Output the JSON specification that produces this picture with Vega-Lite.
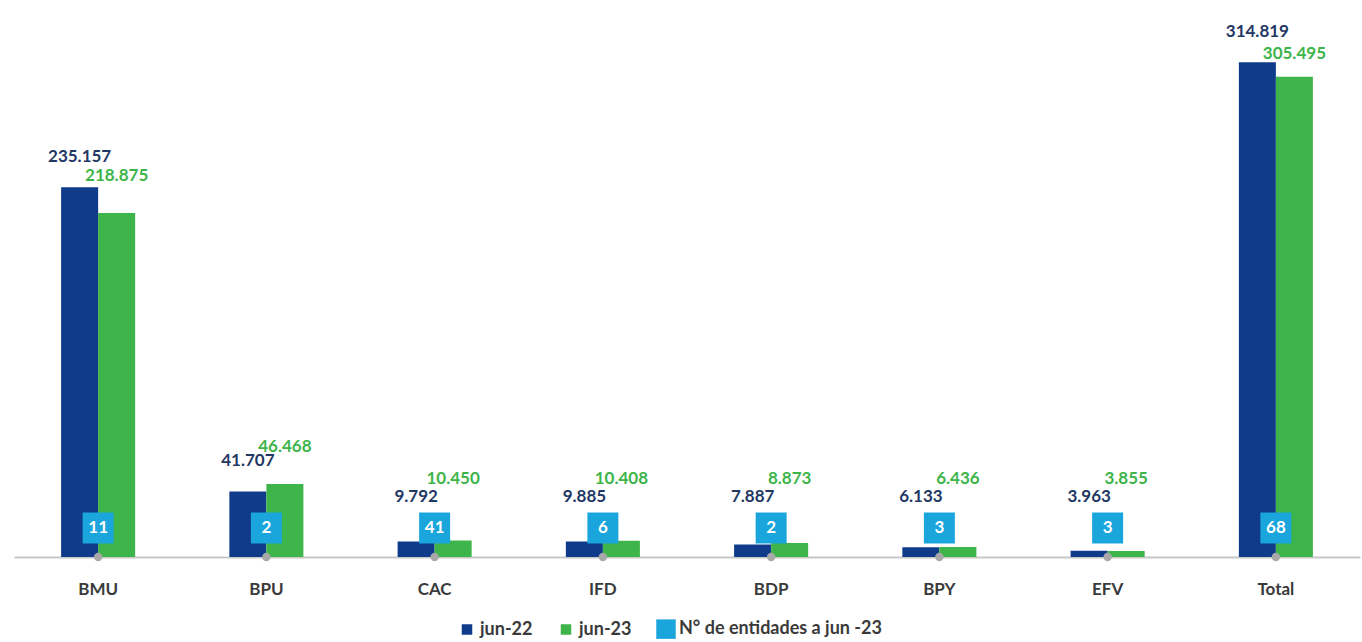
{
  "$schema": "https://vega.github.io/schema/vega-lite/v6.json",
  "width": 1346,
  "height": 547,
  "autosize": {"type": "none"},
  "padding": {"left": 14, "top": 10, "right": 2, "bottom": 85},
  "background": "white",
  "config": {
    "view": {"stroke": null},
    "font": "Lato",
    "locale": {"number": {"decimal": ",", "thousands": ".", "grouping": [3], "currency": ["", " €"]}}
  },
  "datasets": {
    "bars": [
      {"cat": "BMU", "serie": "jun-22", "value": 235157},
      {"cat": "BMU", "serie": "jun-23", "value": 218875},
      {"cat": "BPU", "serie": "jun-22", "value": 41707},
      {"cat": "BPU", "serie": "jun-23", "value": 46468},
      {"cat": "CAC", "serie": "jun-22", "value": 9792},
      {"cat": "CAC", "serie": "jun-23", "value": 10450},
      {"cat": "IFD", "serie": "jun-22", "value": 9885},
      {"cat": "IFD", "serie": "jun-23", "value": 10408},
      {"cat": "BDP", "serie": "jun-22", "value": 7887},
      {"cat": "BDP", "serie": "jun-23", "value": 8873},
      {"cat": "BPY", "serie": "jun-22", "value": 6133},
      {"cat": "BPY", "serie": "jun-23", "value": 6436},
      {"cat": "EFV", "serie": "jun-22", "value": 3963},
      {"cat": "EFV", "serie": "jun-23", "value": 3855},
      {"cat": "Total", "serie": "jun-22", "value": 314819},
      {"cat": "Total", "serie": "jun-23", "value": 305495}
    ],
    "entities": [
      {"cat": "BMU", "serie": "N° de entidades a jun -23", "n": 11},
      {"cat": "BPU", "serie": "N° de entidades a jun -23", "n": 2},
      {"cat": "CAC", "serie": "N° de entidades a jun -23", "n": 41},
      {"cat": "IFD", "serie": "N° de entidades a jun -23", "n": 6},
      {"cat": "BDP", "serie": "N° de entidades a jun -23", "n": 2},
      {"cat": "BPY", "serie": "N° de entidades a jun -23", "n": 3},
      {"cat": "EFV", "serie": "N° de entidades a jun -23", "n": 3},
      {"cat": "Total", "serie": "N° de entidades a jun -23", "n": 68}
    ]
  },
  "encoding": {
    "x": {
      "field": "cat", "type": "nominal", "sort": null,
      "scale": {"paddingInner": 0.56, "paddingOuter": 0.28},
      "axis": {"title": null, "ticks": false, "labelAngle": 0, "labelFont": "Lato", "labelFontWeight": "bold", "labelFontSize": 17, "labelColor": "#3a3a3a", "labelPadding": 24, "domainColor": "#c8c8c8", "domainWidth": 2}
    }
  },
  "layer": [
    {
      "data": {"name": "bars"},
      "mark": {"type": "bar"},
      "encoding": {
        "xOffset": {"field": "serie", "type": "nominal", "scale": {"paddingInner": 0, "paddingOuter": 0}},
        "y": {"field": "value", "type": "quantitative", "scale": {"domain": [0, 348000], "nice": false}, "axis": null},
        "color": {
          "field": "serie", "type": "nominal",
          "scale": {"domain": ["jun-22", "jun-23", "N° de entidades a jun -23"], "range": ["#0f3b8a", "#3db54a", "#1aa5dc"]},
          "legend": {"title": null, "orient": "none", "legendX": 444, "legendY": 610, "direction": "horizontal", "symbolType": "square", "symbolSize": 110, "labelFontSize": 18, "labelFontWeight": "bold", "labelColor": "#3a3a3a", "labelLimit": 0, "columnPadding": 24, "symbolStrokeWidth": 0,
            "encode": {"symbols": {"update": {"size": {"signal": "datum.value == 'N° de entidades a jun -23' ? 380 : 110"}}}}}
        }
      }
    },
    {
      "data": {"name": "bars"},
      "transform": [{"filter": "datum.value > 20000 && datum.serie == 'jun-22'"}],
      "mark": {"type": "text", "dy": -30, "fontWeight": "bold", "fontSize": 17, "color": "#1f3864", "baseline": "middle"},
      "encoding": {
        "xOffset": {"field": "serie", "type": "nominal", "scale": {"domain": ["jun-22", "jun-23"]}},
        "y": {"field": "value", "type": "quantitative"},
        "text": {"field": "value", "type": "quantitative", "format": ",d"}
      }
    },
    {
      "data": {"name": "bars"},
      "transform": [{"filter": "datum.value > 20000 && datum.value < 300000 && datum.serie == 'jun-23'"}],
      "mark": {"type": "text", "dy": -37, "fontWeight": "bold", "fontSize": 17, "color": "#3db54a", "baseline": "middle"},
      "encoding": {
        "xOffset": {"field": "serie", "type": "nominal", "scale": {"domain": ["jun-22", "jun-23"]}},
        "y": {"field": "value", "type": "quantitative"},
        "text": {"field": "value", "type": "quantitative", "format": ",d"}
      }
    },
    {
      "data": {"name": "bars"},
      "transform": [{"filter": "datum.value >= 300000 && datum.serie == 'jun-23'"}],
      "mark": {"type": "text", "dy": -23, "fontWeight": "bold", "fontSize": 17, "color": "#3db54a", "baseline": "middle"},
      "encoding": {
        "xOffset": {"field": "serie", "type": "nominal", "scale": {"domain": ["jun-22", "jun-23"]}},
        "y": {"field": "value", "type": "quantitative"},
        "text": {"field": "value", "type": "quantitative", "format": ",d"}
      }
    },
    {
      "data": {"name": "bars"},
      "transform": [{"filter": "datum.value <= 20000 && datum.serie == 'jun-22'"}],
      "mark": {"type": "text", "fontWeight": "bold", "fontSize": 17, "color": "#1f3864", "baseline": "middle"},
      "encoding": {
        "xOffset": {"field": "serie", "type": "nominal", "scale": {"domain": ["jun-22", "jun-23"]}},
        "y": {"datum": 38200, "type": "quantitative"},
        "text": {"field": "value", "type": "quantitative", "format": ",d"}
      }
    },
    {
      "data": {"name": "bars"},
      "transform": [{"filter": "datum.value <= 20000 && datum.serie == 'jun-23'"}],
      "mark": {"type": "text", "fontWeight": "bold", "fontSize": 17, "color": "#3db54a", "baseline": "middle"},
      "encoding": {
        "xOffset": {"field": "serie", "type": "nominal", "scale": {"domain": ["jun-22", "jun-23"]}},
        "y": {"datum": 49600, "type": "quantitative"},
        "text": {"field": "value", "type": "quantitative", "format": ",d"}
      }
    },
    {
      "data": {"name": "entities"},
      "mark": {"type": "point", "shape": "square", "filled": true, "size": 961, "opacity": 1},
      "encoding": {
        "x": {"field": "cat", "type": "nominal", "sort": null, "bandPosition": 0.5},
        "y": {"datum": 18450, "type": "quantitative"},
        "color": {"field": "serie", "type": "nominal"}
      }
    },
    {
      "data": {"name": "entities"},
      "mark": {"type": "text", "fontWeight": "bold", "fontSize": 17, "color": "white", "baseline": "middle"},
      "encoding": {
        "x": {"field": "cat", "type": "nominal", "sort": null, "bandPosition": 0.5},
        "y": {"datum": 18450, "type": "quantitative"},
        "text": {"field": "n", "type": "quantitative"}
      }
    },
    {
      "data": {"name": "entities"},
      "mark": {"type": "point", "shape": "circle", "filled": true, "size": 70, "color": "#a8a8a8", "opacity": 1},
      "encoding": {
        "x": {"field": "cat", "type": "nominal", "sort": null, "bandPosition": 0.5},
        "y": {"datum": 0, "type": "quantitative"}
      }
    }
  ]
}
